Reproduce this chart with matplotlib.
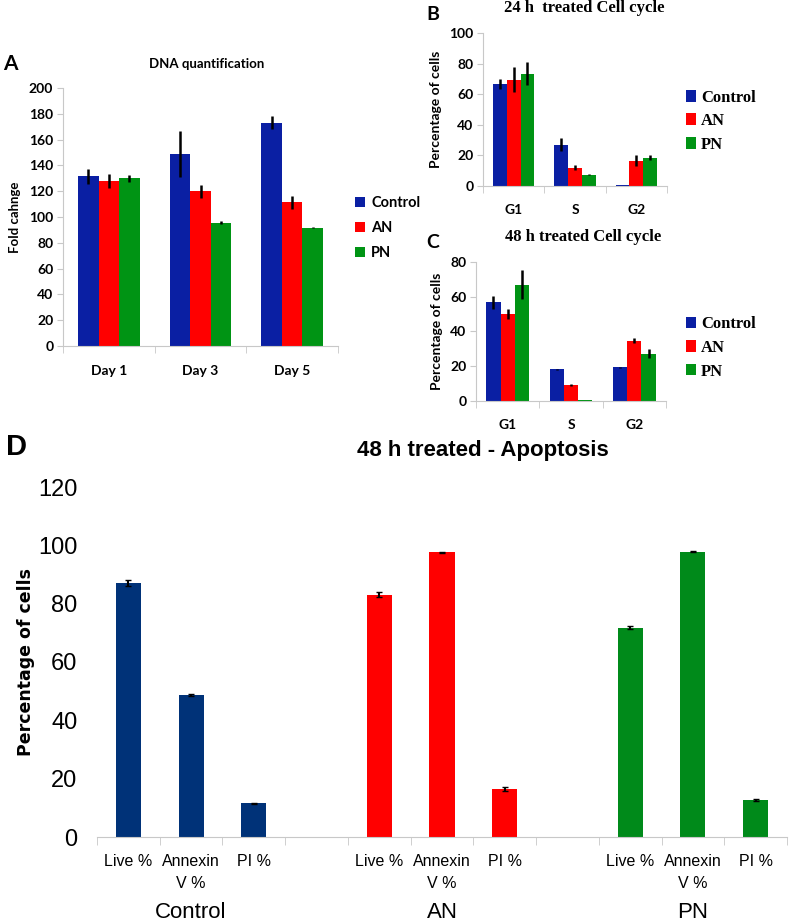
import numpy as np
import matplotlib
matplotlib.use("Agg")
import matplotlib.pyplot as plt
from matplotlib.transforms import blended_transform_factory

# ---- data ----
series = ["Control", "AN", "PN"]

dna_days = ["Day 1", "Day 3", "Day 5"]
dna_vals = [[131.4, 148.8, 173.1],
            [127.8, 119.8, 111.3],
            [129.9, 95.7, 91.6]]
dna_err = [[5.5, 18.0, 5.0],
           [5.4, 5.0, 5.0],
           [2.5, 1.2, 0.5]]

phases = ["G1", "S", "G2"]
cc24_vals = [[66.7, 27.1, 0.4],
             [69.6, 12.0, 16.6],
             [73.5, 7.4, 18.6]]
cc24_err = [[3.4, 4.3, 0.0],
            [8.3, 1.6, 3.4],
            [7.4, 0.3, 1.7]]

cc48_vals = [[56.7, 18.2, 19.3],
             [50.1, 9.2, 34.6],
             [67.0, 0.6, 27.2]]
cc48_err = [[3.9, 0.5, 0.2],
            [3.0, 0.5, 1.5],
            [8.4, 0.0, 2.6]]

apo_labels = ["Live %", "Annexin\nV %", "PI %"]
apo_vals = [[87.0, 48.7, 11.5],
            [83.1, 97.6, 16.5],
            [71.8, 97.8, 12.7]]
apo_err = [[1.0, 0.3, 0.3],
           [0.8, 0.2, 0.6],
           [0.5, 0.1, 0.3]]

cols_abc = ["#0A1FA3", "#FF0000", "#009414"]
cols_d = ["#003278", "#FF0000", "#008A1A"]

SANS = ["Lato", "DejaVu Sans"]
SERIF = ["Liberation Serif", "DejaVu Serif"]
NARROW = ["Liberation Sans", "DejaVu Sans"]
GRAY = "#c8c8c8"

fig = plt.figure(figsize=(7.89, 9.21), dpi=100)


def W(px):
    return px / 789


def H(px):
    return px / 921


def ax_at(x0, y0, x1, y1):
    # pixel box (left, top, right, bottom) -> figure fraction
    return fig.add_axes([W(x0), 1 - H(y1), W(x1 - x0), H(y1 - y0)])


def grouped(ax, vals, errs, labels, ymax, step, xpad, bw=0.225):
    x = np.arange(len(labels))
    for i in range(3):
        ax.bar(x + (i - 1) * bw, vals[i], bw, color=cols_abc[i],
               yerr=errs[i], error_kw=dict(ecolor="black", elinewidth=1.8, capsize=0),
               label=series[i], zorder=2)
    ax.set_xlim(-0.5, len(labels) - 0.5)
    ax.set_ylim(0, ymax)
    ax.set_yticks(np.arange(0, ymax + 1, step))
    ax.set_xticks(x)
    ax.set_xticklabels(labels)
    ax.set_xticks(np.arange(-0.5, len(labels), 1), minor=True)
    for s in ["top", "right"]:
        ax.spines[s].set_visible(False)
    for s in ["left", "bottom"]:
        ax.spines[s].set_color(GRAY)
    ax.tick_params(axis="x", which="major", length=0, pad=xpad)
    ax.tick_params(axis="x", which="minor", length=5, color=GRAY)
    ax.tick_params(axis="y", length=4, color=GRAY, pad=3)
    for t in ax.get_xticklabels() + ax.get_yticklabels():
        t.set_family(SANS)
        t.set_fontweight("bold")
        t.set_fontsize(10)


# ---- A: DNA quantification ----
axA = ax_at(63, 88, 338, 346)
grouped(axA, dna_vals, dna_err, dna_days, 200, 20, 14)
axA.set_ylabel("Fold cahnge", family=SANS, fontweight="bold", fontsize=9.5, labelpad=6)
fig.text(W(207), 1 - H(64), "DNA quantification", family=SANS, fontweight="bold",
         fontsize=9.5, ha="center", va="center")
fig.text(W(3), 1 - H(64), "A", family=SANS, fontweight="bold", fontsize=15, ha="left", va="center")
axA.legend(loc="center left", bbox_to_anchor=(W(342), 1 - H(228)), bbox_transform=fig.transFigure,
           frameon=False, handlelength=0.7, handleheight=0.7, handletextpad=0.4, labelspacing=0.75,
           prop=dict(family=SANS, weight="bold", size=10.5))

# ---- B: 24 h cell cycle ----
axB = ax_at(483, 33, 667, 186)
grouped(axB, cc24_vals, cc24_err, phases, 100, 20, 13)
axB.set_ylabel("Percentage of cells", family=SANS, fontweight="bold", fontsize=10, labelpad=5)
fig.text(W(584), 1 - H(8), "24 h  treated Cell cycle", family=SERIF, fontweight="bold",
         fontsize=12, ha="center", va="center")
fig.text(W(426), 1 - H(15), "B", family=SANS, fontweight="bold", fontsize=14, ha="left", va="center")
axB.legend(loc="center left", bbox_to_anchor=(W(671), 1 - H(121)), bbox_transform=fig.transFigure,
           frameon=False, handlelength=0.6, handleheight=0.7, handletextpad=0.3, labelspacing=0.45,
           prop=dict(family=SERIF, weight="bold", size=12))

# ---- C: 48 h cell cycle ----
axC = ax_at(476, 262, 666, 401)
grouped(axC, cc48_vals, cc48_err, phases, 80, 20, 13)
axC.set_ylabel("Percentage of cells", family=SANS, fontweight="bold", fontsize=10, labelpad=5)
fig.text(W(583), 1 - H(237), "48 h treated Cell cycle", family=SERIF, fontweight="bold",
         fontsize=12, ha="center", va="center")
fig.text(W(426), 1 - H(243), "C", family=SANS, fontweight="bold", fontsize=14, ha="left", va="center")
axC.legend(loc="center left", bbox_to_anchor=(W(671), 1 - H(348)), bbox_transform=fig.transFigure,
           frameon=False, handlelength=0.6, handleheight=0.7, handletextpad=0.3, labelspacing=0.45,
           prop=dict(family=SERIF, weight="bold", size=12))

# ---- D: apoptosis ----
axD = ax_at(97, 487, 787, 837)
slots_per_group = 4
pos_all, lab_all = [], []
for g in range(3):
    pos = np.arange(3) + g * slots_per_group
    axD.bar(pos, apo_vals[g], 0.4, color=cols_d[g], yerr=apo_err[g],
            error_kw=dict(ecolor="black", elinewidth=1.5, capsize=2), zorder=2)
    pos_all += list(pos)
    lab_all += apo_labels
axD.set_xlim(-0.5, 10.5)
axD.set_ylim(0, 120)
axD.set_yticks(np.arange(0, 121, 20))
axD.set_xticks(pos_all)
axD.set_xticklabels(lab_all)
axD.set_xticks(np.arange(-0.5, 11, 1), minor=True)
for s in ["top", "right", "left"]:
    axD.spines[s].set_visible(False)
axD.spines["bottom"].set_color(GRAY)
axD.tick_params(axis="x", which="major", length=0, pad=12)
axD.tick_params(axis="x", which="minor", length=6, color=GRAY)
axD.tick_params(axis="y", length=0, pad=14)
for t in axD.get_xticklabels():
    t.set_family(NARROW)
    t.set_fontsize(11.5)
    t.set_linespacing(1.6)
for t in axD.get_yticklabels():
    t.set_family(NARROW)
    t.set_fontsize(17)
axD.set_ylabel("Percentage of cells", family=["DejaVu Sans"], fontweight="bold", fontsize=12.5)
axD.yaxis.set_label_coords(-0.09, 0.5)
tr = blended_transform_factory(axD.transData, fig.transFigure)
for g, name in enumerate(series):
    axD.text(1 + g * slots_per_group, 1 - H(912), name, transform=tr, family=NARROW,
             fontsize=16, ha="center", va="center")
fig.text(W(483), 1 - H(450), "48 h treated - Apoptosis", family=NARROW, fontweight="bold",
         fontsize=16, ha="center", va="center")
fig.text(W(6), 1 - H(447), "D", family=NARROW, fontweight="bold", fontsize=21, ha="left", va="center")

fig.savefig("out.png", dpi=100)
